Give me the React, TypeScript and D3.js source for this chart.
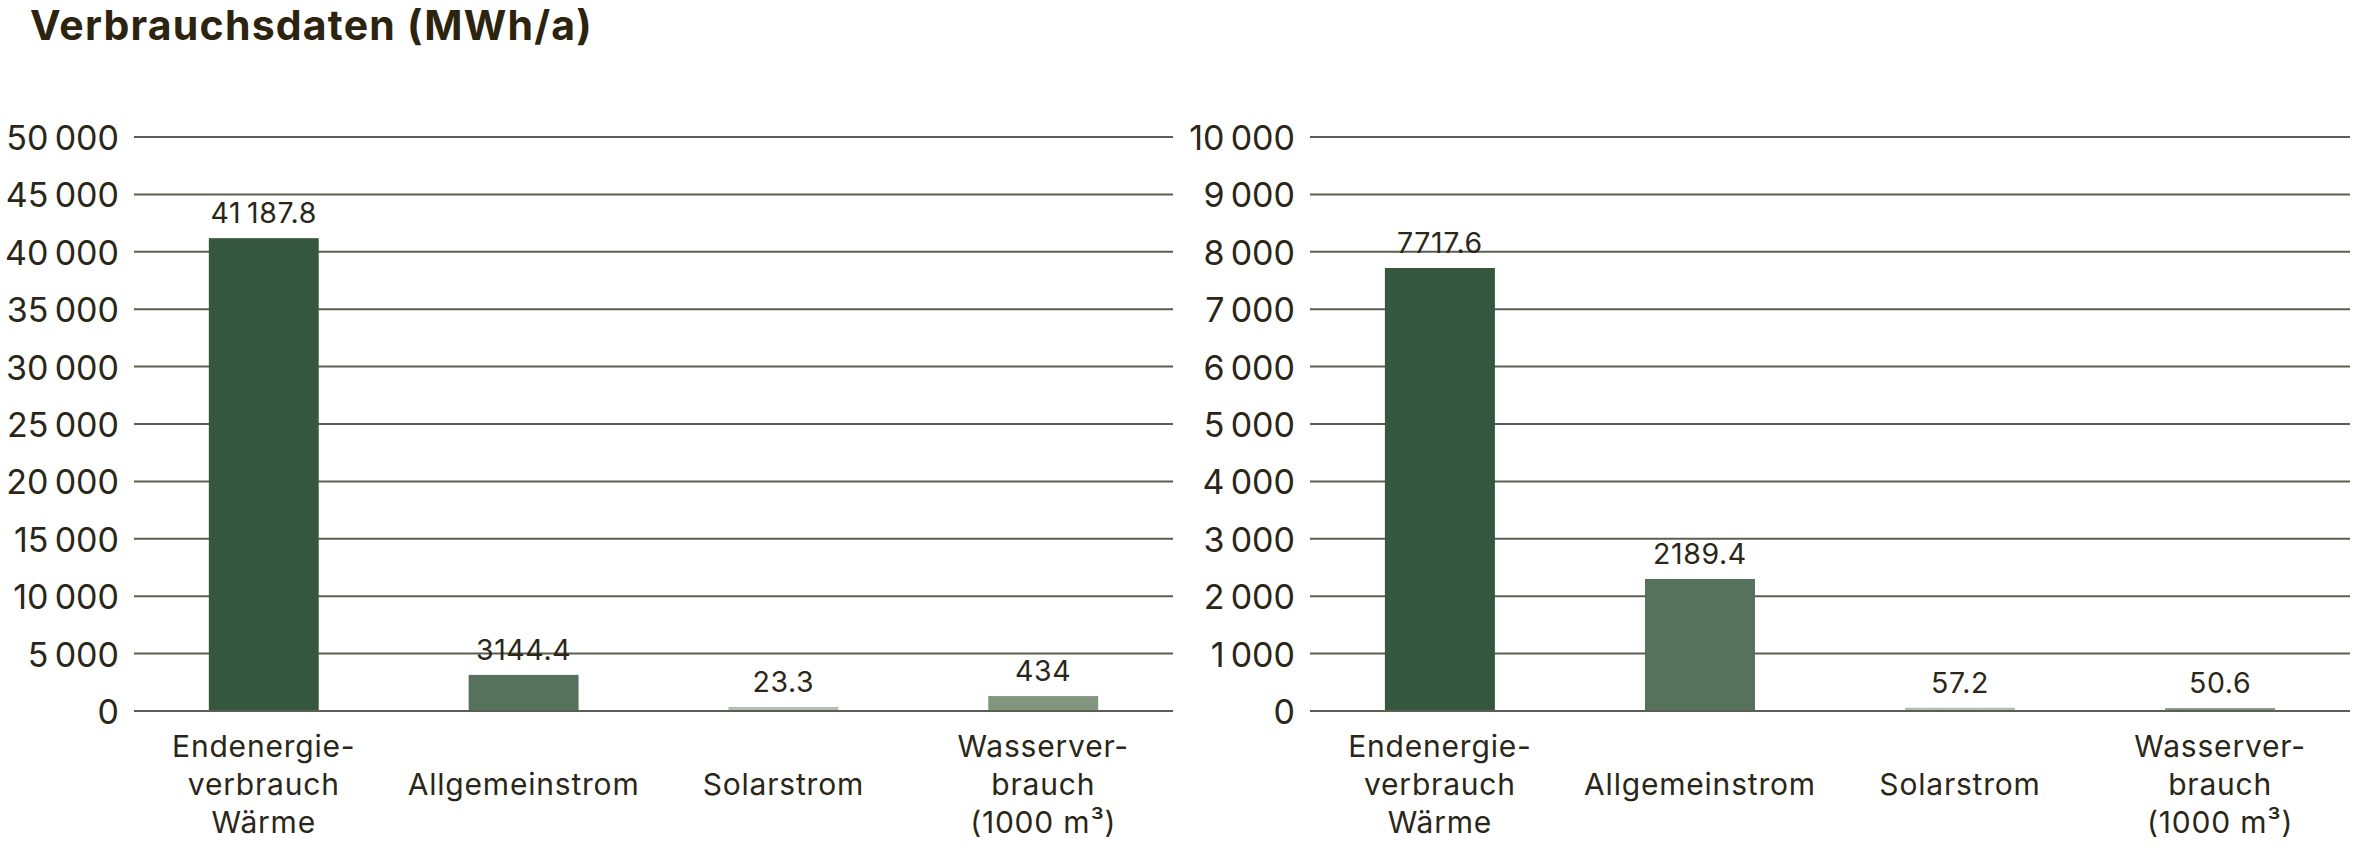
import React from "react";
import * as d3 from "d3";

// ---- data ----
const categories: string[][] = [
  ["Endenergie-", "verbrauch", "Wärme"],
  ["Allgemeinstrom"],
  ["Solarstrom"],
  ["Wasserver-", "brauch", "(1000 m³)"],
];
const leftLabels = [41187.8, 3144.4, 23.3, 434];
const leftBarValues = [41187.8, 3144.4, 350, 1300]; // drawn heights
const leftTicks = d3.range(0, 50001, 5000);
const rightLabels = [7717.6, 2189.4, 57.2, 50.6];
const rightBarValues = [7717.6, 2300, 57.2, 50.6];
const rightTicks = d3.range(0, 10001, 1000);
const barColors = ["#36573f", "#57725c", "#b4bfb3", "#82957f"];

const W = 2368;
const H = 856;
const FONT = "Inter, 'Noto Sans', sans-serif";
const TEXT = "#2a2718";
const GRID = "#5c5e50";

const groupFmt = (v: number) => d3.format(",")(v).replace(/,/g, "\u2009");
const labelFmt = (v: number) =>
  v >= 10000 ? d3.format(",.1f")(v).replace(/,/g, "\u2009") : String(v);

type PanelProps = {
  x0: number;
  x1: number;
  yMax: number;
  ticks: number[];
  bars: number[];
  labels: number[];
};

function Panel({ x0, x1, yMax, ticks, bars, labels }: PanelProps) {
  const y = d3.scaleLinear().domain([0, yMax]).range([711, 137]);
  const x = d3
    .scaleBand<number>()
    .domain(d3.range(categories.length))
    .range([x0, x1])
    .paddingInner(0.577)
    .paddingOuter(0.288);
  return (
    <g>
      {ticks.map((t) => (
        <g key={t}>
          <line x1={x0} x2={x1} y1={y(t)} y2={y(t)} stroke={GRID} strokeWidth={2} />
          <text
            x={x0 - 15}
            y={y(t) + 13}
            textAnchor="end"
            fontFamily={FONT}
            fontSize={34}
            fill={TEXT}
          >
            {groupFmt(t)}
          </text>
        </g>
      ))}
      {bars.map((v, i) => (
        <rect
          key={i}
          x={x(i)}
          width={x.bandwidth()}
          y={y(v)}
          height={y(0) - y(v)}
          fill={barColors[i]}
        />
      ))}
      <line x1={x0} x2={x1} y1={y(0)} y2={y(0)} stroke={GRID} strokeWidth={2} />
      {labels.map((v, i) => (
        <text
          key={i}
          x={(x(i) as number) + x.bandwidth() / 2}
          y={y(bars[i]) - 15}
          textAnchor="middle"
          fontFamily={FONT}
          fontSize={28.5}
          letterSpacing={0.6}
          fill={TEXT}
        >
          {labelFmt(v)}
        </text>
      ))}
      {categories.map((lines, i) => (
        <text
          key={i}
          textAnchor="middle"
          fontFamily={FONT}
          fontSize={30}
          letterSpacing={0.8}
          fill={TEXT}
        >
          {lines.map((ln, j) => (
            <tspan
              key={j}
              x={(x(i) as number) + x.bandwidth() / 2}
              y={795 + (j - (lines.length - 1) / 2) * 38}
            >
              {ln}
            </tspan>
          ))}
        </text>
      ))}
    </g>
  );
}

export default function App() {
  return (
    <div style={{ position: "absolute", left: 0, top: 0 }}>
      <svg width={W} height={H} style={{ display: "block", background: "#fff" }}>
        <text
          x={30}
          y={40}
          fontFamily={FONT}
          fontWeight={700}
          fontSize={41}
          letterSpacing={1.2}
          fill="#2d2410"
        >
          Verbrauchsdaten (MWh/a)
        </text>
        <Panel x0={134} x1={1173} yMax={50000} ticks={leftTicks} bars={leftBarValues} labels={leftLabels} />
        <Panel x0={1310} x1={2350} yMax={10000} ticks={rightTicks} bars={rightBarValues} labels={rightLabels} />
      </svg>
    </div>
  );
}
